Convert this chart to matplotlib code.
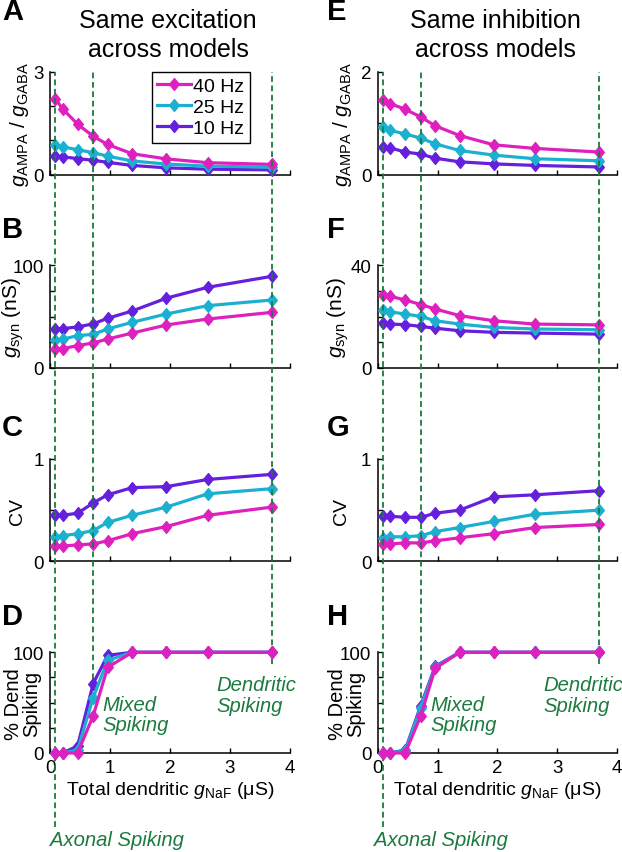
import matplotlib
matplotlib.use('Agg')
import matplotlib.pyplot as plt
from matplotlib.path import Path

plt.rcParams['font.family'] = ['Liberation Sans', 'DejaVu Sans']
plt.rcParams['mathtext.fontset'] = 'custom'
plt.rcParams['mathtext.rm'] = 'Liberation Sans'
plt.rcParams['mathtext.it'] = 'Liberation Sans:italic'
plt.rcParams['mathtext.bf'] = 'Liberation Sans:bold'

# ---------------- data ----------------
g_naf = [0.09, 0.21, 0.46, 0.72, 0.96, 1.37, 1.94, 2.63, 3.70]
freq_labels = ['40 Hz', '25 Hz', '10 Hz']
colors = ['#DE20BE', '#1CB0D0', '#6420DC']
regime_x = [0.09, 0.72, 3.70]

# Same excitation across models
exc_ratio_40 = [2.21, 1.92, 1.47, 1.12, 0.88, 0.61, 0.46, 0.35, 0.30]
exc_ratio_25 = [0.86, 0.81, 0.73, 0.64, 0.54, 0.40, 0.31, 0.25, 0.22]
exc_ratio_10 = [0.54, 0.52, 0.47, 0.42, 0.36, 0.27, 0.20, 0.16, 0.14]

exc_gsyn_40 = [18.5, 18.8, 21.8, 24.4, 28.2, 34.0, 41.9, 47.7, 54.2]
exc_gsyn_25 = [27.6, 28.0, 31.5, 32.8, 38.0, 44.5, 52.6, 60.7, 66.2]
exc_gsyn_10 = [38.0, 38.3, 40.0, 43.0, 48.4, 55.5, 68.0, 78.6, 89.3]

exc_cv_40 = [0.15, 0.15, 0.16, 0.17, 0.20, 0.27, 0.34, 0.45, 0.53]
exc_cv_25 = [0.24, 0.25, 0.27, 0.30, 0.38, 0.45, 0.53, 0.66, 0.71]
exc_cv_10 = [0.45, 0.45, 0.47, 0.57, 0.65, 0.72, 0.73, 0.80, 0.85]

exc_dend_40 = [0, 0, 0, 37, 85, 100, 100, 100, 100]
exc_dend_25 = [0, 0, 3, 55, 92, 100, 100, 100, 100]
exc_dend_10 = [0, 0, 7, 69, 97, 100, 100, 100, 100]

# Same inhibition across models
inh_ratio_40 = [1.46, 1.38, 1.27, 1.12, 0.95, 0.76, 0.58, 0.51, 0.44]
inh_ratio_25 = [0.93, 0.86, 0.79, 0.71, 0.60, 0.47, 0.38, 0.31, 0.27]
inh_ratio_10 = [0.53, 0.52, 0.44, 0.40, 0.32, 0.25, 0.21, 0.18, 0.15]

inh_gsyn_40 = [28.4, 27.9, 26.5, 24.7, 23.0, 20.4, 18.4, 17.1, 16.8]
inh_gsyn_25 = [22.7, 21.9, 21.0, 20.1, 18.4, 17.1, 15.8, 15.2, 14.9]
inh_gsyn_10 = [17.4, 17.1, 16.9, 16.2, 15.5, 14.5, 13.9, 13.6, 13.2]

inh_cv_40 = [0.17, 0.17, 0.18, 0.18, 0.20, 0.23, 0.27, 0.33, 0.36]
inh_cv_25 = [0.23, 0.24, 0.24, 0.25, 0.29, 0.33, 0.39, 0.46, 0.50]
inh_cv_10 = [0.44, 0.44, 0.43, 0.43, 0.47, 0.50, 0.63, 0.65, 0.69]

inh_dend_40 = [0, 0, 0, 37, 84, 100, 100, 100, 100]
inh_dend_25 = [0, 0, 2, 45, 85, 100, 100, 100, 100]
inh_dend_10 = [0, 0, 3, 47, 86, 100, 100, 100, 100]

# ---------------- figure ----------------
W, H = 622, 853
fig = plt.figure(figsize=(W / 100, H / 100), dpi=100)

green = '#1B7A3E'
diamond = Path([(0, 1), (0.82, 0), (0, -1), (-0.82, 0), (0, 1)],
               [Path.MOVETO, Path.LINETO, Path.LINETO, Path.LINETO, Path.CLOSEPOLY])


def px_rect(x0, x1, ytop, ybot):
    return [x0 / W, 1 - ybot / H, (x1 - x0) / W, (ybot - ytop) / H]


rows = [(72.7, 175.7), (266.3, 369.0), (460.0, 562.3), (653.3, 754.0)]
cols = [(50.0, 290.0), (377.7, 617.0)]

panels = [
    [(exc_ratio_40, exc_ratio_25, exc_ratio_10), (exc_gsyn_40, exc_gsyn_25, exc_gsyn_10),
     (exc_cv_40, exc_cv_25, exc_cv_10), (exc_dend_40, exc_dend_25, exc_dend_10)],
    [(inh_ratio_40, inh_ratio_25, inh_ratio_10), (inh_gsyn_40, inh_gsyn_25, inh_gsyn_10),
     (inh_cv_40, inh_cv_25, inh_cv_10), (inh_dend_40, inh_dend_25, inh_dend_10)],
]
ylims = [[3, 100, 1, 100], [2, 40, 1, 100]]
minors = [[[1, 2], [25, 50, 75], [0.5], [25, 50, 75]],
          [[1], [10, 20, 30], [0.5], [25, 50, 75]]]
ylabels = [r'$g_{\mathrm{AMPA}}$ / $g_{\mathrm{GABA}}$', r'$g_{\mathrm{syn}}$ (nS)', 'CV',
           '% Dend\nSpiking']
ylabel_fs = [15, 15, 14, 14.5]
ylabel_x = [[-0.078, -0.098, -0.10, -0.035], [-0.10, -0.11, -0.115, -0.052]]
letters = [['A', 'B', 'C', 'D'], ['E', 'F', 'G', 'H']]
letter_top = [4, 221, 419, 609]
letter_x = [2, 327]
titles = ['Same excitation\nacross models', 'Same inhibition\nacross models']

for c, (cx0, cx1) in enumerate(cols):
    axes = []
    for r, (ry0, ry1) in enumerate(rows):
        ax = fig.add_axes(px_rect(cx0, cx1, ry0, ry1))
        axes.append(ax)
        series = panels[c][r]
        handles = []
        for k in [2, 1, 0]:
            ln, = ax.plot(g_naf, series[k], color=colors[k], lw=2.3, marker=diamond,
                          ms=8.5, mec=colors[k], mfc=colors[k], mew=1.0,
                          clip_on=False, zorder=3 + (2 - k), label=freq_labels[k])
            handles.append(ln)
        ax.set_xlim(0, 4)
        ax.set_ylim(0, ylims[c][r])
        ax.set_xticks([0, 1, 2, 3, 4])
        ax.set_yticks([0, ylims[c][r]])
        ax.set_yticks(minors[c][r], minor=True)
        for s in ['top', 'right']:
            ax.spines[s].set_visible(False)
        for s in ['left', 'bottom']:
            ax.spines[s].set_linewidth(1.1)
        ax.tick_params(which='both', direction='in', length=3.5, width=1.0,
                       labelsize=13.5, pad=4.5)
        ax.tick_params(which='minor', left=True)
        if r < 3:
            ax.tick_params(labelbottom=False)
        else:
            ax.set_xlabel(r'Total dendritic $g_{\mathrm{NaF}}$ ($\mathrm{\mu}$S)', fontsize=14,
                          labelpad=2)
        ax.set_ylabel(ylabels[r], fontsize=ylabel_fs[r], linespacing=0.95)
        ax.yaxis.set_label_coords(ylabel_x[c][r], 0.5)
        ax.patch.set_visible(False)
        if c == 0 and r == 0:
            ordered = handles[::-1]
            leg = ax.legend(ordered, [h.get_label() for h in ordered], loc='upper right',
                            bbox_to_anchor=(0.835, 1.0), fontsize=14, frameon=True,
                            fancybox=False, framealpha=1, edgecolor='black',
                            handlelength=1.7, handletextpad=0.15, borderpad=0.3,
                            labelspacing=0.17, borderaxespad=0.0, numpoints=1)
            leg.get_frame().set_linewidth(1.0)
            leg.set_zorder(10)
        fig.text(letter_x[c] / W, 1 - (letter_top[r] - 5.5) / H, letters[c][r],
                 fontsize=21, fontweight='bold', va='top', ha='left')

    axD = axes[3]
    # regime boundary dashed lines spanning the column
    dash_bottoms = [(754 - 828) / 100.7, 0.55, (754 - 665) / 100.7]
    top = (754 - 72.7) / 100.7
    for xv, yb in zip(regime_x, dash_bottoms):
        axD.axvline(xv, ymin=yb, ymax=top, color=green, lw=1.3, ls=(0, (3.2, 2.0)),
                    clip_on=False, zorder=2)
    tkw = dict(color=green, fontsize=14.6, style='italic', ha='left', va='top',
               linespacing=1.1)
    axD.text(0.88, 58, 'Mixed\nSpiking', **tkw)
    axD.text(2.77, 77, 'Dendritic\nSpiking', **tkw)
    axD.text(0.0 if c == 0 else -0.06, -76, 'Axonal Spiking', **tkw)

    fig.text((cx0 + cx1) / 2 / W - 0.003, 1 - 9.0 / H, titles[c], fontsize=18,
             ha='center', va='top', linespacing=1.28)

fig.savefig('out.png', dpi=100)
